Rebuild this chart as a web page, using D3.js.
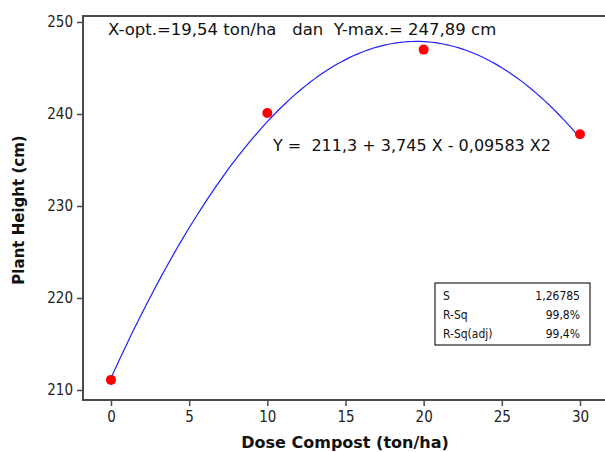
<!DOCTYPE html>
<html>
<head>
<meta charset="utf-8">
<script src="https://cdn.jsdelivr.net/npm/d3@7"></script>
<style>
  body { margin: 0; background: #fff; }
  svg { display: block; font-family: "DejaVu Sans", sans-serif; }
</style>
</head>
<body>
<svg id="chart"></svg>
<script>
// observed data
const doses = [0, 10, 20, 30];
const heights = [211.1, 240.1, 247.0, 237.8];

// quadratic fit Y = b0 + b1 X + b2 X^2
const coefs = [211.3, 3.745, -0.09583];

const xTicks = [0, 5, 10, 15, 20, 25, 30];
const yTicks = [210, 220, 230, 240, 250];

const statLabels = ['S', 'R-Sq', 'R-Sq(adj)'];
const statValues = ['1,26785', '99,8%', '99,4%'];

const W = 605, H = 452;
const margin = { top: 16, right: -10, bottom: 52, left: 83 };

const svg = d3.select('#chart').attr('width', W).attr('height', H);
const g = svg.append('g').attr('transform', 'translate(' + margin.left + ',' + margin.top + ')');

const width = W - margin.left - margin.right;
const height = H - margin.top - margin.bottom;

// x(0)=111, x(30)=580 in page px
const x = d3.scaleLinear().domain([0, 30]).range([111 - margin.left, 580 - margin.left]);
// y(210)=390, y(250)=22 in page px
const y = d3.scaleLinear().domain([210, 250]).range([390 - margin.top, 22 - margin.top]);

const frameColor = '#4a4a4a';

// frame: top, left, bottom
g.append('path')
  .attr('d', 'M' + width + ',0H0V' + height + 'H' + width)
  .attr('fill', 'none')
  .attr('stroke', frameColor)
  .attr('stroke-width', 2);

const xAxis = d3.axisBottom(x).tickValues(xTicks).tickSize(6).tickSizeOuter(0).tickPadding(5);
const yAxis = d3.axisLeft(y).tickValues(yTicks).tickSize(6).tickSizeOuter(0).tickPadding(4);

const xg = g.append('g').attr('transform', 'translate(0,' + height + ')').call(xAxis);
const yg = g.append('g').call(yAxis);
[xg, yg].forEach(a => {
  a.select('.domain').remove();
  a.selectAll('line').attr('stroke', frameColor).attr('stroke-width', 1.5);
  a.selectAll('text').attr('fill', '#222').style('font-size', '15px')
    .style('font-family', '"DejaVu Sans Condensed", "DejaVu Sans", sans-serif');
});

// fitted curve
const fit = d => coefs[0] + coefs[1] * d + coefs[2] * d * d;
const curvePts = d3.range(0, 30.01, 0.25).map(d => [d, fit(d)]);
g.append('path')
  .datum(curvePts)
  .attr('fill', 'none')
  .attr('stroke', '#2020ff')
  .attr('stroke-width', 1.2)
  .attr('d', d3.line().x(d => x(d[0])).y(d => y(d[1])));

// observations
g.selectAll('circle.obs')
  .data(doses.map((d, i) => [d, heights[i]]))
  .join('circle')
  .attr('class', 'obs')
  .attr('cx', d => x(d[0]))
  .attr('cy', d => y(d[1]))
  .attr('r', 5)
  .attr('fill', '#ff0000');

// annotations
svg.append('text')
  .attr('x', 108).attr('y', 35)
  .style('font-size', '16.5px').attr('fill', '#111')
  .attr('xml:space', 'preserve')
  .text('X-opt.=19,54 ton/ha   dan  Y-max.= 247,89 cm');

svg.append('text')
  .attr('x', 273).attr('y', 151)
  .style('font-size', '16px').attr('fill', '#111')
  .attr('xml:space', 'preserve')
  .text('Y =  211,3 + 3,745 X - 0,09583 X2');

// stats box
const box = svg.append('g').attr('transform', 'translate(435,283)');
box.append('rect')
  .attr('width', 155).attr('height', 62)
  .attr('fill', '#fff').attr('stroke', '#222').attr('stroke-width', 1.2);
statLabels.forEach((s, i) => {
  box.append('text').attr('x', 8).attr('y', 17 + i * 19)
    .style('font-size', '12px').attr('fill', '#111')
    .style('font-family', '"DejaVu Sans Condensed", "DejaVu Sans", sans-serif')
    .text(s);
  box.append('text').attr('x', 145).attr('y', 17 + i * 19)
    .attr('text-anchor', 'end')
    .style('font-size', '12px').attr('fill', '#111')
    .style('font-family', '"DejaVu Sans Condensed", "DejaVu Sans", sans-serif')
    .text(statValues[i]);
});

// axis titles
svg.append('text')
  .attr('x', 345).attr('y', 448)
  .attr('text-anchor', 'middle')
  .style('font-size', '16px').style('font-weight', 'bold').attr('fill', '#111')
  .text('Dose Compost (ton/ha)');

svg.append('text')
  .attr('transform', 'translate(24,210) rotate(-90)')
  .attr('text-anchor', 'middle')
  .style('font-size', '15px').style('font-weight', 'bold').attr('fill', '#111')
  .text('Plant Height (cm)');
</script>
</body>
</html>
